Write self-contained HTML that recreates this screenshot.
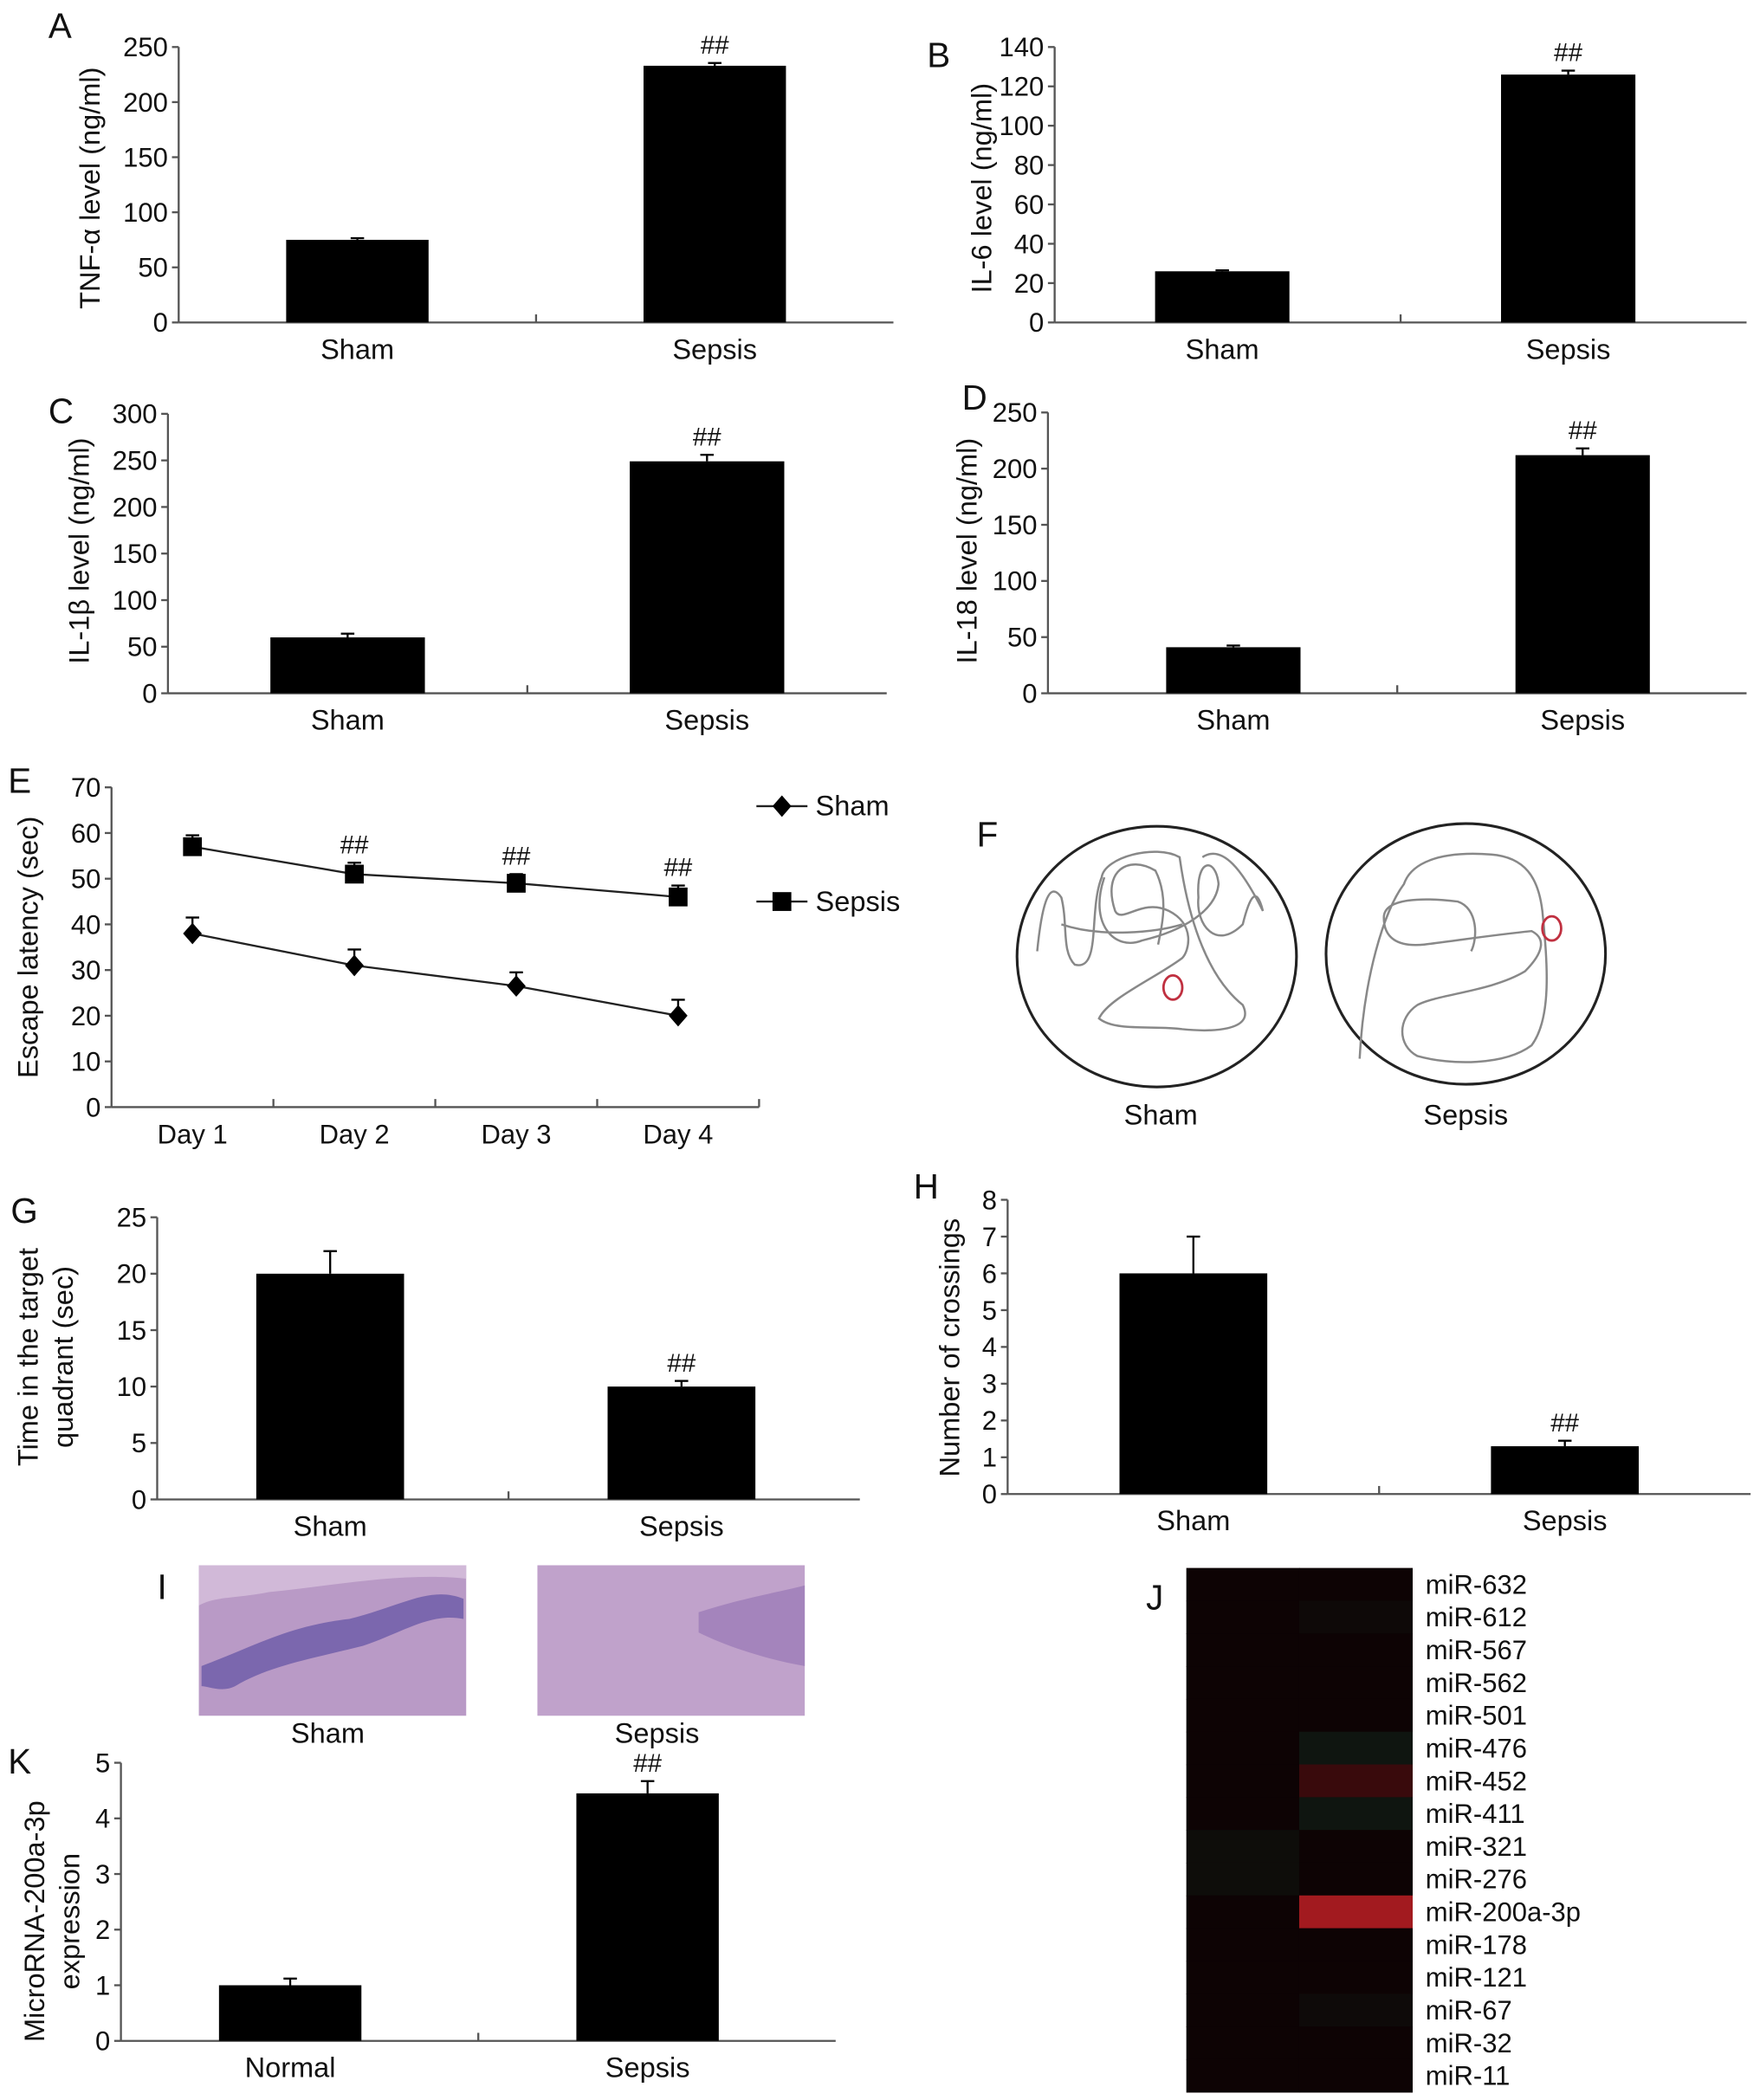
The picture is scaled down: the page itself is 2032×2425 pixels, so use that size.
<!DOCTYPE html>
<html><head><meta charset="utf-8">
<style>
html,body{margin:0;padding:0;background:#fff;}
svg{display:block;}
text{font-family:"Liberation Sans",Arial,sans-serif;fill:#111;}
</style></head>
<body>
<svg id="fig" xmlns="http://www.w3.org/2000/svg" width="2032" height="2425" viewBox="0 0 1310 1563" preserveAspectRatio="none">
<rect x="0" y="0" width="1310" height="1563" fill="#fff"/>
</svg>
<script>
// ---- Data ----
const barCats = ["Sham","Sepsis"];
const tnfValues = [75, 233];
const tnfErrors = [1.5, 2.5];
const il6Values = [26, 126];
const il6Errors = [0.5, 2];
const il1bValues = [60, 249];
const il1bErrors = [4, 7];
const il18Values = [41, 212];
const il18Errors = [1.5, 6];
const timeValues = [20, 10];
const timeErrors = [2, 0.5];
const crossValues = [6, 1.3];
const crossErrors = [1, 0.15];
const kCats = ["Normal","Sepsis"];
const kValues = [1.0, 4.45];
const kErrors = [0.12, 0.22];
const days = ["Day 1","Day 2","Day 3","Day 4"];
const shamLatency = [38, 31, 26.5, 20];
const shamLatencyErr = [3.5, 3.5, 3, 3.5];
const sepsisLatency = [57, 51, 49, 46];
const sepsisLatencyErr = [2.5, 2.5, 2, 2.5];
const mirLabels = ["miR-632","miR-612","miR-567","miR-562","miR-501","miR-476","miR-452","miR-411","miR-321","miR-276","miR-200a-3p","miR-178","miR-121","miR-67","miR-32","miR-11"];
const heatCol1 = [0,0,0,0,0,0,0,0,-0.08,-0.08,0,0,0,0,0,0];
const heatCol2 = [0,-0.05,0,0,0,-0.15,0.25,-0.15,0,0,0.85,0,0,-0.06,0,0];

const svg = document.getElementById('fig');
const NS = "http://www.w3.org/2000/svg";
function el(tag, attrs, parent){
  const e = document.createElementNS(NS, tag);
  for (const k in attrs) e.setAttribute(k, attrs[k]);
  (parent||svg).appendChild(e);
  return e;
}
function txt(x,y,s,size,anchor,parent,extra){
  const t = el('text',Object.assign({x:x,y:y,'font-size':size,'text-anchor':anchor||'middle'},extra||{}),parent);
  t.textContent = s;
  return t;
}

function barPanel(cfg){
  const g = el('g',{});
  
  
  const yS = v => cfg.y0 - (v - 0) / cfg.max * (cfg.y0 - cfg.yTop);
  el('line',{x1:cfg.x0,y1:cfg.yTop,x2:cfg.x0,y2:cfg.y0,stroke:'#555','stroke-width':1.5},g);
  el('line',{x1:cfg.x0,y1:cfg.y0,x2:cfg.x1,y2:cfg.y0,stroke:'#555','stroke-width':1.5},g);
  const catW = (cfg.x1 - cfg.x0)/cfg.cats.length;
  el('line',{x1:cfg.x0+catW,y1:cfg.y0,x2:cfg.x0+catW,y2:cfg.y0-6,stroke:'#555','stroke-width':1.5},g);
  for (let v=0; v<=cfg.max+1e-9; v+=cfg.step){
    const y = yS(v);
    el('line',{x1:cfg.x0-5,y1:y,x2:cfg.x0,y2:y,stroke:'#555','stroke-width':1.5},g);
    const t = txt(cfg.x0-8,y+7,String(Math.round(v*100)/100),20,'end',g);
    
    
  }
  cfg.vals.forEach((v,i)=>{
    const cx = cfg.x0 + catW*(i+0.5) + (cfg.shift||0);
    const bw = cfg.bw;
    const b = el('rect',{x:cx-bw/2,y:yS(v),width:bw,height:cfg.y0-yS(v),fill:'#000'},g);
    
    
    const e = cfg.errs[i];
    el('line',{x1:cx,y1:yS(v),x2:cx,y2:yS(v+e),stroke:'#000','stroke-width':1.5},g);
    el('line',{x1:cx-5,y1:yS(v+e),x2:cx+5,y2:yS(v+e),stroke:'#000','stroke-width':1.5},g);
    const ct = txt(cx,cfg.y0+27,cfg.cats[i],21,'middle',g);
    
    
    if (cfg.sig===i){
      const s = txt(cx,yS(v+e)-7,'##',19,'middle',g);
      
      
    }
  });
  const lines = cfg.ylabel;
  lines.forEach((ln,j)=>{
    const lx = cfg.ylx + j*26;
    const t = txt(lx,cfg.yly,ln,21,'middle',g,{transform:`rotate(-90 ${lx} ${cfg.yly})`});
    
    
  });
  const pl = txt(cfg.px,cfg.py,cfg.letter,26,'start',g);
  
  
}

barPanel({name:'panel-a-tnf',letter:'A',px:36,py:28,x0:133,x1:665,y0:240,yTop:35,max:250,step:50,bw:106,cats:barCats,vals:tnfValues,errs:tnfErrors,sig:1,ylabel:['TNF-α level (ng/ml)'],ylx:74,yly:140,shift:0});
barPanel({name:'panel-b-il6',letter:'B',px:690,py:50,x0:785,x1:1300,y0:240,yTop:35,max:140,step:20,bw:100,cats:barCats,vals:il6Values,errs:il6Errors,sig:1,ylabel:['IL-6 level (ng/ml)'],ylx:738,yly:140,shift:-4});
barPanel({name:'panel-c-il1b',letter:'C',px:36,py:315,x0:125,x1:660,y0:516,yTop:308,max:300,step:50,bw:115,cats:barCats,vals:il1bValues,errs:il1bErrors,sig:1,ylabel:['IL-1β level (ng/ml)'],ylx:66,yly:410,shift:0});
barPanel({name:'panel-d-il18',letter:'D',px:716,py:305,x0:780,x1:1300,y0:516,yTop:307,max:250,step:50,bw:100,cats:barCats,vals:il18Values,errs:il18Errors,sig:1,ylabel:['IL-18 level (ng/ml)'],ylx:727,yly:410,shift:8});
barPanel({name:'panel-g-target-time',letter:'G',px:8,py:910,x0:117,x1:640,y0:1116,yTop:906,max:25,step:5,bw:110,cats:barCats,vals:timeValues,errs:timeErrors,sig:1,ylabel:['Time in the target','quadrant (sec)'],ylx:28,yly:1010,shift:-2});
barPanel({name:'panel-h-crossings',letter:'H',px:680,py:892,x0:750,x1:1303,y0:1112,yTop:893,max:8,step:1,bw:110,cats:barCats,vals:crossValues,errs:crossErrors,sig:1,ylabel:['Number of crossings'],ylx:714,yly:1003,shift:0});
barPanel({name:'panel-k-mir200a',letter:'K',px:6,py:1320,x0:90,x1:622,y0:1519,yTop:1312,max:5,step:1,bw:106,cats:kCats,vals:kValues,errs:kErrors,sig:1,ylabel:['MicroRNA-200a-3p','expression'],ylx:33,yly:1430,shift:-7});

// ---- Panel E line chart ----
(function(){
  const g = el('g',{});
  
  
  const x0=83,x1=565,y0=824,yTop=586,max=70;
  const yS = v => y0 - v/max*(y0-yTop);
  const cw = (x1-x0)/days.length;
  const xS = i => x0 + cw*(i+0.5);
  el('line',{x1:x0,y1:yTop,x2:x0,y2:y0,stroke:'#555','stroke-width':1.5},g);
  el('line',{x1:x0,y1:y0,x2:x1,y2:y0,stroke:'#555','stroke-width':1.5},g);
  for(let i=1;i<=days.length;i++) el('line',{x1:x0+cw*i,y1:y0,x2:x0+cw*i,y2:y0-6,stroke:'#555','stroke-width':1.5},g);
  for(let v=0;v<=max;v+=10){
    el('line',{x1:x0-5,y1:yS(v),x2:x0,y2:yS(v),stroke:'#555','stroke-width':1.5},g);
    const t=txt(x0-8,yS(v)+7,String(v),20,'end',g);
    
    
  }
  days.forEach((d,i)=>{
    const t=txt(xS(i),y0+27,d,20,'middle',g);
    
    
  });
  function series(vals,errs,marker,nm){
    const pts = vals.map((v,i)=>xS(i)+','+yS(v)).join(' ');
    const pl = el('polyline',{points:pts,fill:'none',stroke:'#222','stroke-width':1.5},g);
    
    
    vals.forEach((v,i)=>{
      const x=xS(i),y=yS(v),ye=yS(v+errs[i]);
      el('line',{x1:x,y1:y,x2:x,y2:ye,stroke:'#000','stroke-width':1.5},g);
      el('line',{x1:x-5,y1:ye,x2:x+5,y2:ye,stroke:'#000','stroke-width':1.5},g);
      let m;
      if(marker==='d') m=el('polygon',{points:`${x},${y-8} ${x+7},${y} ${x},${y+8} ${x-7},${y}`,fill:'#000'},g);
      else m=el('rect',{x:x-7,y:y-7,width:14,height:14,fill:'#000'},g);
      
      
      if(nm==='sepsis' && i>0){
        const s=txt(x,ye-7,'##',19,'middle',g);
        
        
      }
    });
  }
  series(shamLatency,shamLatencyErr,'d','sham');
  series(sepsisLatency,sepsisLatencyErr,'s','sepsis');
  const lg = el('g',{},g);
  
  
  el('line',{x1:563,y1:600,x2:601,y2:600,stroke:'#222','stroke-width':1.5},lg);
  el('polygon',{points:'582,592 589,600 582,608 575,600',fill:'#000'},lg);
  txt(607,607,'Sham',21,'start',lg);
  el('line',{x1:563,y1:671,x2:601,y2:671,stroke:'#222','stroke-width':1.5},lg);
  el('rect',{x:575,y:664,width:14,height:14,fill:'#000'},lg);
  txt(607,678,'Sepsis',21,'start',lg);
  const yt = txt(28,705,'Escape latency (sec)',21,'middle',g,{transform:'rotate(-90 28 705)'});
  
  
  const pl = txt(6,590,'E',26,'start',g);
  
  
})();

// ---- Panel F swim paths ----
(function(){
  const g = el('g',{});
  
  
  const pl = txt(727,630,'F',26,'start',g);
  
  
  const c1 = el('ellipse',{cx:861,cy:712,rx:104,ry:97,fill:'none',stroke:'#222','stroke-width':2},g);
  
  
  const c2 = el('ellipse',{cx:1091,cy:710,rx:104,ry:97,fill:'none',stroke:'#222','stroke-width':2},g);
  
  
  const pg = el('g',{transform:'translate(0,-12)'},g);
  el('path',{d:'M772,720 C775,690 780,665 790,680 C795,700 790,720 800,730 C820,735 810,690 820,665 C822,650 860,640 878,650 C885,700 900,740 925,760 C935,780 900,780 880,778 C860,775 830,780 818,770 C825,755 860,740 880,725 C885,720 890,700 870,690 C850,680 835,700 830,690 C820,660 840,648 860,660 C870,680 865,700 862,715 M822,665 C810,700 830,720 850,712 C880,705 905,690 907,670 C905,650 890,650 892,680 C890,700 905,720 925,700 C930,680 935,670 940,690 C925,660 910,640 895,650 M790,700 C820,710 860,706 880,700' ,fill:'none',stroke:'#888','stroke-width':1.6},pg);
  el('path',{d:'M1012,800 C1015,740 1030,690 1045,670 C1050,655 1070,645 1110,648 C1135,650 1145,665 1148,690 C1152,730 1155,770 1140,790 C1120,805 1080,805 1055,798 C1040,790 1040,770 1055,760 C1070,752 1110,750 1135,735 C1150,720 1150,710 1140,705 C1110,708 1085,712 1060,715 C1040,717 1030,710 1030,695 C1030,680 1060,680 1085,683 C1100,688 1100,710 1095,720',fill:'none',stroke:'#888','stroke-width':1.6},pg);
  el('ellipse',{cx:873,cy:747,rx:7,ry:9,fill:'none',stroke:'#c03040','stroke-width':1.8},pg);
  el('ellipse',{cx:1155,cy:703,rx:7,ry:9,fill:'none',stroke:'#c03040','stroke-width':1.8},pg);
  txt(864,837,'Sham',21,'middle',g);
  txt(1091,837,'Sepsis',21,'middle',g);
})();

// ---- Panel I histology ----
(function(){
  const g = el('g',{});
  
  
  const pl = txt(117,1190,'I',26,'start',g);
  
  
  const r1 = el('rect',{x:148,y:1165,width:199,height:112,fill:'#b99ac6'},g);
  
  
  el('path',{d:'M150,1240 C190,1225 215,1210 260,1205 C300,1195 320,1180 345,1190 L345,1205 C320,1200 300,1215 270,1225 C230,1235 200,1240 175,1255 C165,1260 155,1255 150,1255 Z',fill:'#6c5aa8',opacity:0.8},g);
  el('path',{d:'M148,1165 L347,1165 L347,1175 C300,1170 250,1180 200,1185 C175,1190 160,1188 148,1195 Z',fill:'#d7c0dc',opacity:0.8},g);
  const r2 = el('rect',{x:400,y:1165,width:199,height:112,fill:'#c0a2cb'},g);
  
  
  el('path',{d:'M520,1200 C550,1190 580,1185 599,1180 L599,1240 C570,1235 540,1225 520,1215 Z',fill:'#9878b5',opacity:0.7},g);
  txt(244,1297,'Sham',21,'middle',g);
  txt(489,1297,'Sepsis',21,'middle',g);
})();

// ---- Panel J heatmap ----
(function(){
  const g = el('g',{});
  
  
  const pl = txt(853,1198,'J',26,'start',g);
  
  
  const hx=883, hy=1167, cw=84, rh=(1557-1167)/mirLabels.length;
  function color(v){
    const base=[13,3,4];
    if(v>=0) return `rgb(${Math.round(base[0]+v*175)},${Math.round(base[1]+v*27)},${Math.round(base[2]+v*32)})`;
    const a=-v;
    return `rgb(${Math.round(base[0]+a*10)},${Math.round(base[1]+a*120)},${Math.round(base[2]+a*80)})`;
  }
  [heatCol1,heatCol2].forEach((col,c)=>{
    col.forEach((v,r)=>{
      const cell = el('rect',{x:hx+c*cw,y:hy+r*rh,width:cw+0.5,height:rh+0.5,fill:color(v)},g);
      
      
    });
  });
  mirLabels.forEach((m,r)=>{
    const t = txt(1061,hy+r*rh+rh/2+7,m,20,'start',g);
    
    
  });
})();
</script>
</body></html>
